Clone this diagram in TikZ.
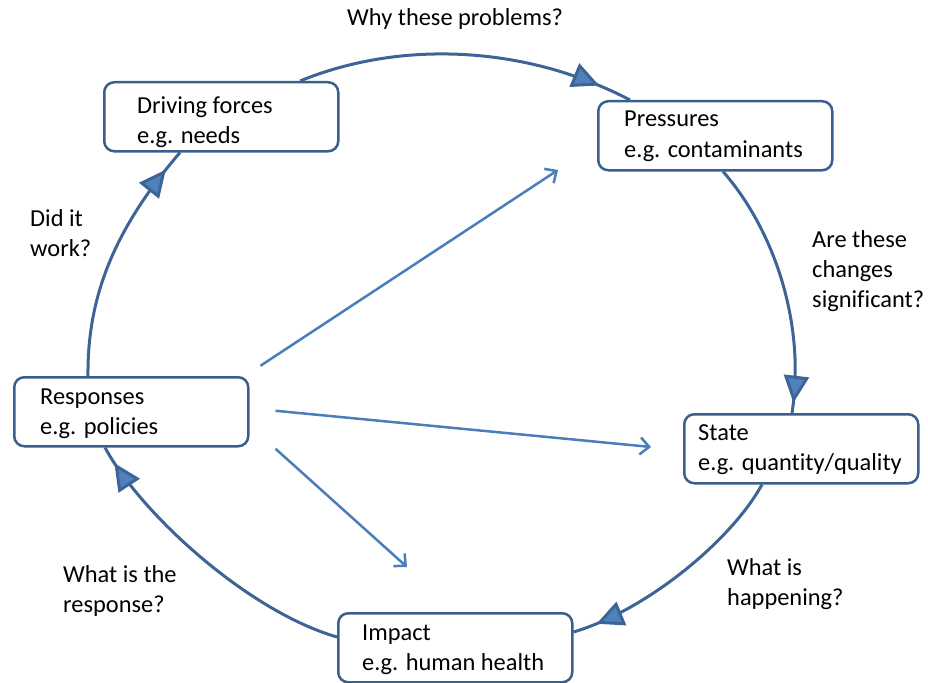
\documentclass[tikz,border=0pt]{standalone}
\usepackage{fontspec}
\setmainfont{Carlito}[Ligatures=NoCommon]
\usetikzlibrary{arrows.meta,calc,decorations.markings}

\definecolor{boxline}{RGB}{58,95,140}
\definecolor{arcline}{RGB}{60,100,150}
\definecolor{rayline}{RGB}{74,126,187}
\definecolor{tipfill}{RGB}{79,129,189}

\tikzset{
  stagebox/.style={draw=boxline, line width=2.5pt, rounded corners=10pt,
    fill=white, minimum width=234pt, minimum height=69pt, inner sep=0pt,
    anchor=north west},
  % multi-line texts are placed by the baseline of their last line
  boxtext/.style={align=left, inner sep=0pt, anchor=base west,
    font=\fontsize{24.4}{30}\selectfont},
  qtext/.style={align=left, inner sep=0pt, anchor=base west,
    font=\fontsize{24.4}{30}\selectfont},
  cycle arc/.style={draw=arcline, line width=3pt, postaction={decorate},
    decoration={markings, mark=at position #1 with
      {\arrow{Triangle[length=27pt,width=25pt,fill=tipfill]}}}},
  ray/.style={draw=rayline, line width=2.5pt,
    -{Straight Barb[length=9pt,width=17pt]}},
}

\begin{document}
\begin{tikzpicture}[x=1pt,y=-1pt]
\useasboundingbox (0,0) rectangle (928,682);

% the five stages of the cycle
\node[stagebox] (drv)   at (103,81)  {};
\node[stagebox] (pres)  at (597,100) {};
\node[stagebox] (resp)  at (13,376)  {};
\node[stagebox] (state) at (683,413) {};
\node[stagebox] (imp)   at (337,612) {};

\node[boxtext] (drvT)   at ($(drv.north west)+(34,62)$)   {Driving forces\\e.g. needs};
\node[boxtext] (presT)  at ($(pres.north west)+(27,57)$)  {Pressures\\e.g. contaminants};
\node[boxtext] (respT)  at ($(resp.north west)+(27,58)$)  {Responses\\e.g. policies};
\node[boxtext] (stateT) at ($(state.north west)+(15,57)$) {State\\e.g. quantity/quality};
\node[boxtext] (impT)   at ($(imp.north west)+(25,58)$)   {Impact\\e.g. human health};

% questions along the cycle
\node[qtext] (q1) at (347,26)  {Why these problems?};
\node[qtext] (q2) at (812,307) {Are these\\changes\\significant?};
\node[qtext] (q3) at (727,605) {What is\\happening?};
\node[qtext] (q4) at (63,612)  {What is the\\response?};
\node[qtext] (q5) at (30,256)  {Did it\\work?};

% curved arcs closing the cycle
\path[cycle arc=0.9]
  ($(drv.north west)+(197,0)$) .. controls +(100,-41) and +(-105,-55) ..
  ($(pres.north west)+(33,0)$);
\path[cycle arc=0.96]
  ($(pres.south west)+(126,0)$) .. controls +(50,57) and +(14,-91) ..
  ($(state.north west)+(109,0)$);
\path[cycle arc=0.9]
  ($(state.south west)+(79,0)$) .. controls +(-30,55) and +(74,-22) ..
  ($(imp.north east)+(0,20)$);
\path[cycle arc=0.94]
  ($(imp.north west)+(0,25)$) .. controls +(-90,-26) and +(35,65) ..
  ($(resp.south west)+(92,0)$);
\path[cycle arc=0.91]
  ($(resp.north west)+(75,0)$) .. controls +(-1,-86) and +(-60,70) ..
  ($(drv.south west)+(77,0)$);

% responses acting on the other stages
\coordinate (r1s) at ($(resp.east)+(11,-46)$);
\coordinate (r2s) at ($(resp.east)+(26,-1)$);
\coordinate (r3s) at ($(resp.east)+(26,37)$);
\coordinate (r1e) at (558,170);
\coordinate (r2e) at (651,447);
\coordinate (r3e) at (407,567);
\draw[ray] (r1s) -- (r1e);
\draw[ray] (r2s) -- (r2e);
\draw[ray] (r3s) -- (r3e);
\end{tikzpicture}
\end{document}
